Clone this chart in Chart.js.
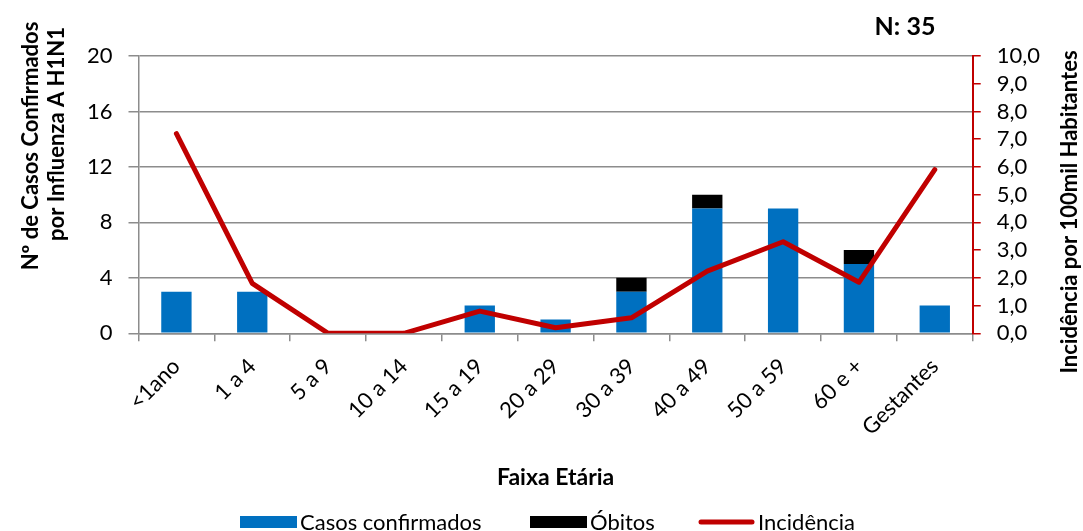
<!DOCTYPE html>
<html><head><meta charset="utf-8">
<script src="https://cdn.jsdelivr.net/npm/chart.js@4.4.0/dist/chart.umd.min.js"></script>
<style>html,body{margin:0;padding:0;background:#fff}#wrap{width:1083px;height:531px;position:relative}</style>
</head><body><div id="wrap"><canvas id="c" width="1083" height="531"></canvas></div>
<script>
const categories = ['<1ano','1 a 4','5 a 9','10 a 14','15 a 19','20 a 29','30 a 39','40 a 49','50 a 59','60 e +','Gestantes'];
const casosConfirmados = [3,3,0,0,2,1,3,9,9,5,2];
const obitos = [0,0,0,0,0,0,1,1,0,1,0];
const incidencia = [7.2,1.8,0,0,0.8,0.2,0.56,2.24,3.3,1.84,5.9];
const leftTicks = [0,4,8,12,16,20];
const rightTicks = [0,1,2,3,4,5,6,7,8,9,10];
const seriesNames = ['Casos confirmados','Óbitos','Incidência'];
const leftTitle = ['Nº de Casos Confirmados','por Influenza A H1N1'];
const rightTitle = 'Incidência por 100mil Habitantes';
const xTitle = 'Faixa Etária';
const nLabel = 'N: 35';

const FONT = 'Lato, "Open Sans", sans-serif';
const BLUE = '#0070C0', BLACK = '#000000', RED = '#C00000', GRID = '#8C8C8C';

const decor = {
  id: 'decor',
  afterDraw(chart) {
    const ctx = chart.ctx;
    ctx.save();
    ctx.fillStyle = '#000';
    ctx.font = 'bold 25px ' + FONT;
    ctx.textAlign = 'center'; ctx.textBaseline = 'middle';
    ctx.fillText(nLabel, 905, 27);
    ctx.font = 'bold 22px ' + FONT;
    ctx.save(); ctx.translate(31, 146); ctx.rotate(-Math.PI/2); ctx.fillText(leftTitle[0], 0, 0); ctx.restore();
    ctx.save(); ctx.translate(57, 134); ctx.rotate(-Math.PI/2); ctx.fillText(leftTitle[1], 0, 0); ctx.restore();
    ctx.save(); ctx.translate(1070, 212); ctx.rotate(-Math.PI/2); ctx.fillText(rightTitle, 0, 0); ctx.restore();
    // legend
    const byLabel = {};
    chart.data.datasets.forEach(d => { byLabel[d.label] = d; });
    ctx.font = '22px ' + FONT;
    ctx.textAlign = 'left'; ctx.textBaseline = 'middle';
    const ly = 522;
    const items = [
      {x: 240, kind: 'box', ds: byLabel[seriesNames[0]]},
      {x: 530, kind: 'box', ds: byLabel[seriesNames[1]]},
      {x: 698, kind: 'line', ds: byLabel[seriesNames[2]]}
    ];
    items.forEach(it => {
      if (it.kind === 'box') {
        ctx.fillStyle = it.ds.backgroundColor; ctx.fillRect(it.x, ly - 6, 57, 12);
      } else {
        ctx.strokeStyle = it.ds.borderColor; ctx.lineWidth = 5; ctx.lineCap = 'round';
        ctx.beginPath(); ctx.moveTo(it.x + 3, ly); ctx.lineTo(it.x + 54, ly); ctx.stroke();
      }
      ctx.fillStyle = '#000';
      ctx.fillText(it.ds.label, it.x + 60, ly + 1);
    });
    ctx.restore();
  }
};

new Chart(document.getElementById('c'), {
  data: {
    labels: categories,
    datasets: [
      {type: 'line', label: seriesNames[2], data: incidencia, yAxisID: 'y1', borderColor: RED, backgroundColor: RED,
       borderWidth: 5, pointRadius: 0, tension: 0, borderCapStyle: 'round', borderJoinStyle: 'round', order: 0},
      {type: 'bar', label: seriesNames[0], data: casosConfirmados, yAxisID: 'y', backgroundColor: BLUE, stack: 's', order: 1,
       barPercentage: 0.4, categoryPercentage: 1},
      {type: 'bar', label: seriesNames[1], data: obitos, yAxisID: 'y', backgroundColor: BLACK, stack: 's', order: 1,
       barPercentage: 0.4, categoryPercentage: 1}
    ]
  },
  options: {
    responsive: false, animation: false, devicePixelRatio: 1,
    layout: {padding: {top: 56, bottom: 40, left: 0, right: 0}},
    plugins: {legend: {display: false}, tooltip: {enabled: false}},
    scales: {
      x: {
        stacked: true, offset: true,
        grid: {offset: true, drawOnChartArea: false, color: GRID, lineWidth: 1.5, tickLength: 8},
        border: {color: GRID, width: 1.5},
        ticks: {autoSkip: false, minRotation: 45, maxRotation: 45, color: '#000', font: {family: FONT, size: 22}, padding: 12},
        title: {display: true, text: xTitle, color: '#000', font: {family: FONT, size: 23, weight: 'bold'}, padding: {top: 0, bottom: 0}},
        afterFit: s => { s.height = 531 - 40 - 333.3; }
      },
      y: {
        type: 'linear', position: 'left', stacked: true, min: 0, max: 20,
        afterBuildTicks: s => { s.ticks = leftTicks.map(v => ({value: v})); },
        grid: {color: GRID, lineWidth: 1.5, tickLength: 10},
        border: {color: GRID, width: 1.5},
        ticks: {autoSkip: false, color: '#000', font: {family: FONT, size: 22}, padding: 16},
        afterFit: s => { s.width = 138.5; }
      },
      y1: {
        type: 'linear', position: 'right', min: 0, max: 10,
        afterBuildTicks: s => { s.ticks = rightTicks.map(v => ({value: v})); },
        grid: {drawOnChartArea: false, color: RED, lineWidth: 1.5, tickLength: 8},
        border: {color: RED, width: 2},
        ticks: {autoSkip: false, color: '#000', font: {family: FONT, size: 22}, padding: 16,
                callback: v => v.toFixed(1).replace('.', ',')},
        afterFit: s => { s.width = 1083 - 972.7; }
      }
    }
  },
  plugins: [decor]
});
</script></body></html>
